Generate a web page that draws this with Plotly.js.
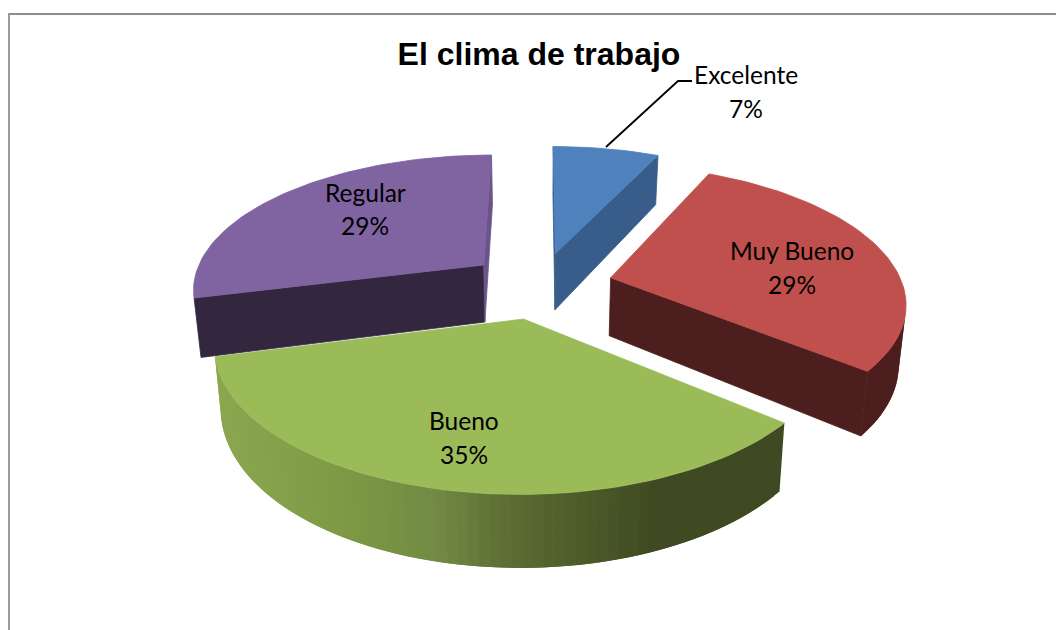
<!DOCTYPE html>
<html><head><meta charset="utf-8">
<script src="https://cdn.plot.ly/plotly-3.0.1.min.js"></script>
<style>html,body{margin:0;padding:0;background:#fff}#c{width:1056px;height:630px}</style>
</head><body><div id="c"></div><script>
const categories = ['Excelente','Muy Bueno','Bueno','Regular'];
const values = [7,29,35,29];

// projection of the tilted 3D pie, onto a pixel-sized hidden axis pair
const CX=540, CY=285, R0=292, A=0.164, K=134, E=0.25, H=58.5, SHR=0.02;
function proj(X,Y,h){
  const p=1/(1+A*Y);
  const s=1-SHR*h;
  return [CX+R0*X*p*s, CY-K*Y*p+h*H*p];
}
const topColor=['#4F81BD','#C0504D','#9BBB59','#8064A2'];
const cutColor=['#385D8A','#4C1E1D','#3F4A22','#33273F'];
const endCutColor=['#385D8A','#4C1E1D','#3F4A22','#6A5488'];
const rimColor=['#2F4F78','#4C1E1D',null,'#65507F'];
const gradStops=[[220,[138,166,78]],[350,[124,152,68]],[430,[114,138,68]],[510,[90,107,50]],[650,[63,74,34]],[800,[63,74,34]]];
function gradient(x){
  for(let i=1;i<gradStops.length;i++){
    if(x<=gradStops[i][0]){
      const a=gradStops[i-1],b=gradStops[i];
      const t=Math.max(0,(x-a[0])/(b[0]-a[0]));
      const c=a[1].map((v,j)=>Math.round(v+(b[1][j]-v)*t));
      return `rgb(${c})`;
    }
  }
  return 'rgb(63,74,34)';
}
function poly(pts,color,w){
  const xs=pts.map(p=>p[0]).concat(pts[0][0]);
  const ys=pts.map(p=>p[1]).concat(pts[0][1]);
  return {type:'scatter',mode:'lines',x:xs,y:ys,fill:'toself',fillcolor:color,
    line:{color:color,width:w},hoverinfo:'skip',showlegend:false};
}
function area(pts){let s=0;for(let i=0;i<pts.length;i++){const a=pts[i],b=pts[(i+1)%pts.length];s+=a[0]*b[1]-b[0]*a[1];}return s/2;}

const total=values.reduce((a,b)=>a+b,0);
let cum=0;
const slices=values.map((v,i)=>{
  const a0=cum/total*2*Math.PI; cum+=v; const a1=cum/total*2*Math.PI;
  return {i,a0,a1,mid:(a0+a1)/2};
});
const traces=[];
function addSlice(s){
  const ox=E*Math.sin(s.mid), oy=E*Math.cos(s.mid);
  const n=Math.max(8,Math.round((s.a1-s.a0)/0.03));
  const rim=[];
  for(let k=0;k<=n;k++){const t=s.a0+(s.a1-s.a0)*k/n;rim.push([ox+Math.sin(t),oy+Math.cos(t)]);}
  const loop=[[ox,oy]].concat(rim);
  const L=loop.length;
  for(let k=0;k<L;k++){
    const a=loop[k];
    const isRim=k>0&&k<L-1;
    // rim quads overlap the next one so that no seam shows through
    const bIdx=(isRim&&k<L-2)?k+2:(k+1)%L;
    const b=loop[bIdx];
    const f=[proj(a[0],a[1],0),proj(b[0],b[1],0),proj(b[0],b[1],1),proj(a[0],a[1],1)];
    if(area(f)<0){
      const mx=(f[0][0]+f[1][0])/2;
      const col=isRim?(rimColor[s.i]||gradient(mx)):(k===L-1?endCutColor[s.i]:cutColor[s.i]);
      traces.push(poly(f,col,isRim?0:0.8));
    }
  }
  traces.push(poly(loop.map(p=>proj(p[0],p[1],0)),topColor[s.i],0.8));
}
[0,3,1,2].forEach(i=>addSlice(slices[i]));

// leader line of the first label
traces.push({type:'scatter',mode:'lines',x:[692,678,606],y:[81,81,147],
  line:{color:'#000',width:1.8},hoverinfo:'skip',showlegend:false});

const labelAt=[[746,74,108],[792,250,284],[464,420,454],[365,192,225]];
const annotations=[];
categories.forEach((c,i)=>{
  const f={family:'Lato, "Noto Sans", sans-serif',size:24.5,color:'#000'};
  annotations.push({x:labelAt[i][0],y:labelAt[i][1],xref:'x',yref:'y',text:c,showarrow:false,font:f});
  annotations.push({x:labelAt[i][0],y:labelAt[i][2],xref:'x',yref:'y',text:values[i]+'%',showarrow:false,font:f});
});

const layout={
  width:1056,height:630,margin:{l:0,r:0,t:0,b:0},
  paper_bgcolor:'#fff',plot_bgcolor:'#fff',showlegend:false,
  title:{text:'<b>El clima de trabajo</b>',x:539/1056,xanchor:'center',xref:'paper',y:1-54/630,yanchor:'middle',yref:'paper',
    font:{family:'"Liberation Sans", Arial, sans-serif',size:32,color:'#000'}},
  xaxis:{range:[0,1056],visible:false,fixedrange:true},
  yaxis:{range:[630,0],visible:false,fixedrange:true},
  annotations,
  shapes:[{type:'line',xref:'x',yref:'y',x0:9,y0:14,x1:1056,y1:14,line:{color:'#8C8C8C',width:2}},
          {type:'line',xref:'x',yref:'y',x0:9,y0:13,x1:9,y1:630,line:{color:'#9A9A9A',width:2}}]
};
Plotly.newPlot('c',traces,layout,{displayModeBar:false,staticPlot:true});
</script></body></html>
